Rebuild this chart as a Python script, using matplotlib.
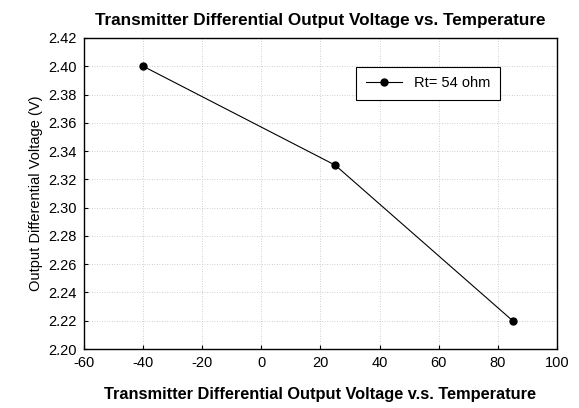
import matplotlib
matplotlib.use("Agg")
import matplotlib.pyplot as plt

plt.rcParams['font.family'] = ['Liberation Sans', 'DejaVu Sans']
plt.rcParams['axes.unicode_minus'] = False

temperature = [-40, 25, 85]
voltage = [2.40, 2.33, 2.22]
series_label = "Rt= 54 ohm"
xticks = list(range(-60, 101, 20))
yticks = [2.20 + 0.02 * i for i in range(12)]

fig = plt.figure(figsize=(5.79, 4.08), dpi=100)
ax = fig.add_axes([0.145, 0.1446, 0.817, 0.7624])

ax.plot(temperature, voltage, color='black', lw=0.8, marker='o', ms=5,
        label=series_label)

ax.set_xlim(-60, 100)
ax.set_ylim(2.20, 2.42)
ax.set_xticks(xticks)
ax.set_yticks(yticks)
ax.set_yticklabels([f"{v:.2f}" for v in yticks])
ax.tick_params(labelsize=10.5, direction='in', length=3, width=0.8, pad=5)
ax.grid(True, linestyle=(0, (1, 2)), color='#c0c0c0', lw=0.6)
for s in ax.spines.values():
    s.set_linewidth(1.0)

ax.set_ylabel("Output Differential Voltage (V)", fontsize=10.5)
ax.set_xlabel("Transmitter Differential Output Voltage v.s. Temperature",
              fontsize=11.8, fontweight='bold', labelpad=12)
ax.set_title("Transmitter Differential Output Voltage vs. Temperature",
             fontsize=12.3, fontweight='bold', pad=9)

leg = ax.legend(loc='upper left', bbox_to_anchor=(0.56, 0.93), fontsize=10.5,
                fancybox=False, edgecolor='black', framealpha=1,
                borderpad=0.65, handlelength=2.5)
leg.get_frame().set_linewidth(0.8)

fig.savefig("out.png", dpi=100)
plt.close(fig)
